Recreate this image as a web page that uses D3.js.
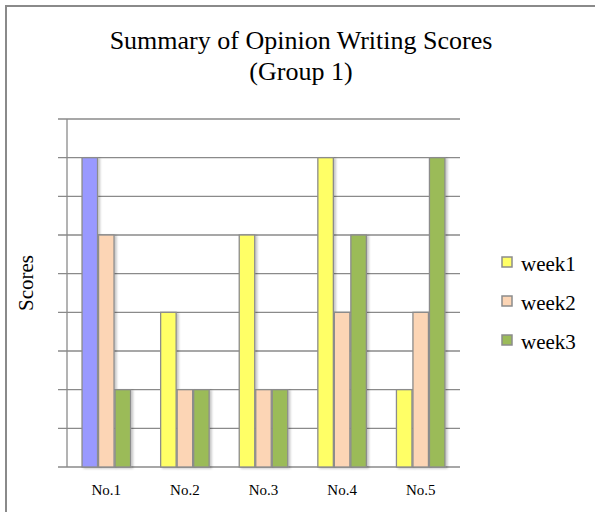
<!DOCTYPE html>
<html><head><meta charset="utf-8">
<script src="https://cdn.jsdelivr.net/npm/d3@7"></script>
<style>html,body{margin:0;padding:0;background:#fff;}svg{display:block;}</style>
</head><body>
<script>
const categories = ["No.1", "No.2", "No.3", "No.4", "No.5"];
const seriesNames = ["week1", "week2", "week3"];
const week1 = [4, 2, 3, 4, 1];
const week2 = [3, 1, 1, 2, 2];
const week3 = [1, 1, 1, 3, 4];
const yTicks = [0, 0.5, 1, 1.5, 2, 2.5, 3, 3.5, 4, 4.5];
const titleLines = ["Summary of Opinion Writing Scores", "(Group 1)"];
const yLabel = "Scores";

const seriesValues = {week1, week2, week3};
const colors = {week1: "#FFFF66", week2: "#FCD5B5", week3: "#9BBB59"};
const overrideColors = {"No.1|week1": "#9999FF"};
const FONT = '"Liberation Serif"';

const W = 595, H = 512;
const svg = d3.select("body").append("svg").attr("width", W).attr("height", H);
const defs = svg.append("defs");
const f = defs.append("filter").attr("id", "sh").attr("x", "-30%").attr("y", "-10%").attr("width", "170%").attr("height", "130%");
f.append("feDropShadow").attr("dx", 2).attr("dy", 1).attr("stdDeviation", 1.3).attr("flood-color", "#000").attr("flood-opacity", 0.22);

svg.append("rect").attr("x", 6).attr("y", 6).attr("width", 620).attr("height", 540)
  .attr("fill", "#fff").attr("stroke", "#8a8a8a").attr("stroke-width", 2);

const pLeft = 67, pRight = 460, pTop = 119, pBottom = 467;
const y = d3.scaleLinear().domain([0, 4.5]).range([pBottom, pTop]);
const x0 = d3.scaleBand().domain(categories).range([pLeft, pRight]).paddingInner(0.37).paddingOuter(0.185);
const x1 = d3.scaleBand().domain(seriesNames).range([0, x0.bandwidth()]).padding(0);

svg.append("g").selectAll("line").data(yTicks).join("line")
  .attr("x1", pLeft - 9).attr("x2", pRight)
  .attr("y1", d => y(d)).attr("y2", d => y(d))
  .attr("stroke", "#8a8a8a").attr("stroke-width", 1.3);
svg.append("line").attr("x1", pLeft).attr("x2", pLeft).attr("y1", pTop).attr("y2", pBottom)
  .attr("stroke", "#8a8a8a").attr("stroke-width", 1.3);

const rows = [];
categories.forEach((c, i) => seriesNames.forEach(s => rows.push({c, s, v: seriesValues[s][i]})));
svg.append("g").selectAll("rect").data(rows).join("rect")
  .attr("x", d => x0(d.c) + x1(d.s) + 0.5)
  .attr("y", d => y(d.v))
  .attr("width", x1.bandwidth() - 1)
  .attr("height", d => y(0) - y(d.v))
  .attr("fill", d => overrideColors[d.c + "|" + d.s] || colors[d.s])
  .attr("stroke", "#8c8c8c").attr("stroke-width", 1.3)
  .attr("filter", "url(#sh)");

const xAxis = d3.axisBottom(x0).tickSize(0).tickPadding(17);
const gx = svg.append("g").attr("transform", `translate(0,${pBottom})`).call(xAxis);
gx.select(".domain").remove();
gx.selectAll("text").style("font-family", FONT).style("font-size", "15px").style("fill", "#000");

svg.append("g").selectAll("text").data(titleLines).join("text")
  .attr("x", 301).attr("y", (d, i) => 49 + i * 31)
  .attr("text-anchor", "middle")
  .style("font-family", FONT).style("font-size", "26px").style("fill", "#000")
  .text(d => d);

svg.append("text").attr("transform", "translate(33,283) rotate(-90)")
  .attr("text-anchor", "middle")
  .style("font-family", FONT).style("font-size", "21px").style("fill", "#000")
  .text(yLabel);

const lg = svg.append("g").selectAll("g").data(seriesNames).join("g")
  .attr("transform", (d, i) => `translate(502,${257 + i * 39})`);
lg.append("rect").attr("width", 10).attr("height", 10)
  .attr("fill", d => colors[d]).attr("stroke", "#8c8c8c").attr("stroke-width", 1.5);
lg.append("text").attr("x", 19).attr("y", 14)
  .style("font-family", FONT).style("font-size", "21px").style("fill", "#000")
  .text(d => d);
</script>
</body></html>
